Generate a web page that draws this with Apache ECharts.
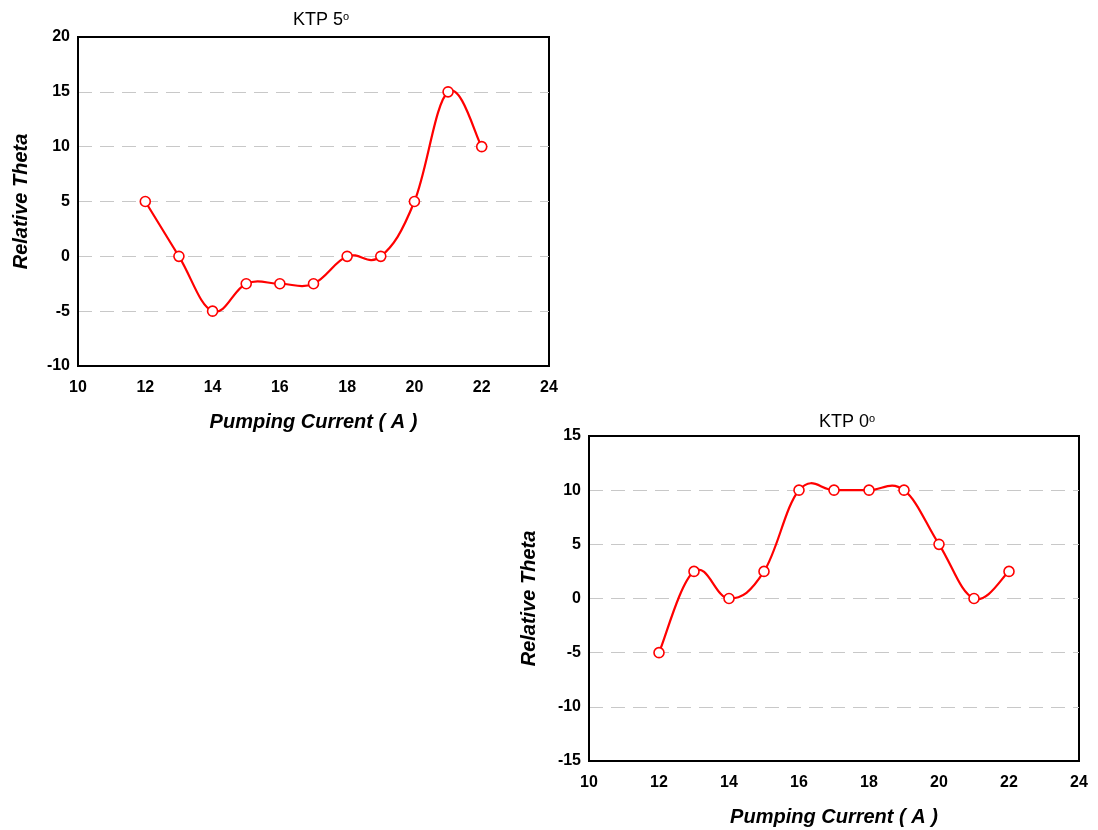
<!DOCTYPE html>
<html>
<head>
<meta charset="utf-8">
<script src="https://cdn.jsdelivr.net/npm/echarts@6/dist/echarts.min.js"></script>
<style>
  html, body { margin: 0; padding: 0; background: #fff; }
  #main { width: 1098px; height: 830px; }
</style>
</head>
<body>
<div id="main"></div>
<script>
// pumping current (A)
const current = [12, 13, 14, 15, 16, 17, 18, 19, 20, 21, 22]
// relative theta, KTP 5 deg
const theta5 = [5, 0, -5, -2.5, -2.5, -2.5, 0, 0, 5, 15, 10]
// relative theta, KTP 0 deg
const theta0 = [-5, 2.5, 0, 2.5, 10, 10, 10, 10, 5, 0, 2.5]

const font = 'Liberation Sans, Arial, sans-serif'
const red = '#ff0000'

function xAxisFor (idx) {
  return {
    gridIndex: idx,
    type: 'value',
    min: 10,
    max: 24,
    interval: 2,
    name: 'Pumping Current ( A )',
    nameLocation: 'middle',
    nameGap: 46,
    nameTextStyle: { fontFamily: font, fontSize: 20, fontWeight: 'bold', fontStyle: 'italic', color: '#000' },
    axisLine: { onZero: false, lineStyle: { color: '#000', width: 2 } },
    axisTick: { show: false },
    axisLabel: { fontFamily: font, fontSize: 16, fontWeight: 'bold', color: '#000', margin: 14 },
    splitLine: { show: false }
  }
}

function yAxisFor (idx, min, max, gap) {
  return {
    gridIndex: idx,
    type: 'value',
    min: min,
    max: max,
    interval: 5,
    name: 'Relative Theta',
    nameLocation: 'middle',
    nameGap: gap,
    nameTextStyle: { fontFamily: font, fontSize: 20, fontWeight: 'bold', fontStyle: 'italic', color: '#000' },
    axisLine: { onZero: false, lineStyle: { color: '#000', width: 2 } },
    axisTick: { show: false },
    axisLabel: { fontFamily: font, fontSize: 16, fontWeight: 'bold', color: '#000', margin: 8 },
    splitLine: { show: true, showMinLine: false, showMaxLine: false, lineStyle: { color: '#c8c8c8', type: [14, 8], width: 1.2 } }
  }
}

// smoothed curve (cardinal bezier) drawn through the axis scales
function curveFor (idx, vals) {
  return {
    type: 'custom',
    xAxisIndex: idx,
    yAxisIndex: idx,
    z: 2,
    silent: true,
    data: current.slice(0, -1).map((x, i) => [x, vals[i]]),
    renderItem: function (params, api) {
      const i = params.dataIndex
      const n = current.length
      const pt = j => api.coord([current[Math.max(0, Math.min(n - 1, j))], vals[Math.max(0, Math.min(n - 1, j))]])
      const p0 = pt(i - 1)
      const p1 = pt(i)
      const p2 = pt(i + 1)
      const p3 = pt(i + 2)
      const k = 5.2
      return {
        type: 'bezierCurve',
        shape: {
          x1: p1[0], y1: p1[1],
          x2: p2[0], y2: p2[1],
          cpx1: p1[0] + (p2[0] - p0[0]) / k,
          cpy1: p1[1] + (p2[1] - p0[1]) / k,
          cpx2: p2[0] - (p3[0] - p1[0]) / k,
          cpy2: p2[1] - (p3[1] - p1[1]) / k
        },
        style: { stroke: red, lineWidth: 2.2, fill: null }
      }
    }
  }
}

function pointsFor (idx, vals) {
  return {
    type: 'scatter',
    xAxisIndex: idx,
    yAxisIndex: idx,
    z: 3,
    data: current.map((x, i) => [x, vals[i]]),
    symbol: 'circle',
    symbolSize: 10,
    itemStyle: { color: '#fff', borderColor: red, borderWidth: 1.6, opacity: 1 }
  }
}

function titleFor (deg, left, top) {
  return {
    text: '{t|KTP ' + deg + '}{s|o}',
    left: left,
    top: top,
    textAlign: 'center',
    textStyle: {
      rich: {
        t: { fontFamily: font, fontSize: 18, fontWeight: 'normal', color: '#000' },
        s: { fontFamily: font, fontSize: 11, fontWeight: 'normal', color: '#000', verticalAlign: 'top', lineHeight: 12, padding: [0, 0, 12, 0] }
      }
    }
  }
}

const chart = echarts.init(document.getElementById('main'))
const option = {
  animation: false,
  title: [titleFor(5, 316, 6), titleFor(0, 842, 408)],
  grid: [
    { left: 78, top: 37, width: 471, height: 329, show: true, borderColor: '#000', borderWidth: 2 },
    { left: 589, top: 436, width: 490, height: 325, show: true, borderColor: '#000', borderWidth: 2 }
  ],
  xAxis: [xAxisFor(0), xAxisFor(1)],
  yAxis: [yAxisFor(0, -10, 20, 47), yAxisFor(1, -15, 15, 50)],
  series: [curveFor(0, theta5), pointsFor(0, theta5), curveFor(1, theta0), pointsFor(1, theta0)]
}
chart.setOption(option)
</script>
</body>
</html>
